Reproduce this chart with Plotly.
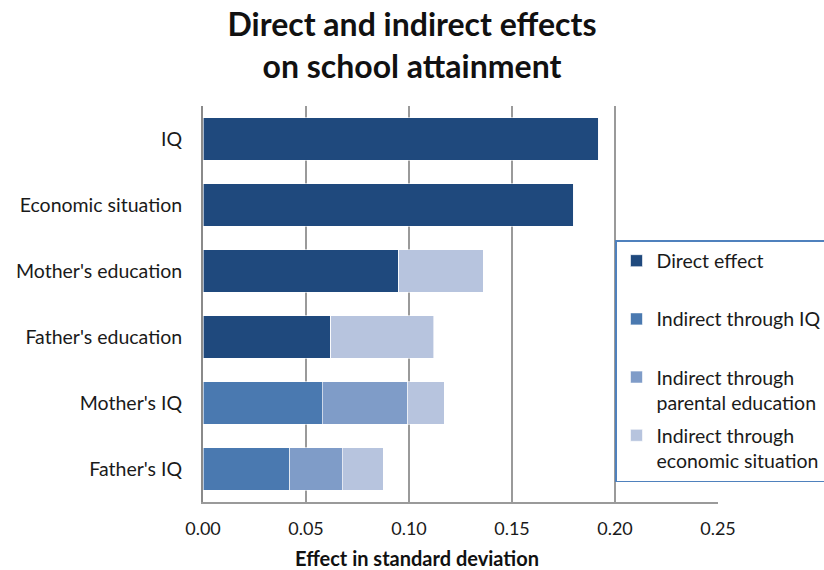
import plotly.graph_objects as go

categories = ["IQ", "Economic situation", "Mother's education",
              "Father's education", "Mother's IQ", "Father's IQ"]

direct_effect = [0.192, 0.180, 0.095, 0.062, 0, 0]
indirect_iq = [0, 0, 0, 0, 0.058, 0.042]
indirect_parental = [0, 0, 0, 0, 0.0415, 0.0255]
indirect_economic = [0, 0, 0.041, 0.050, 0.0175, 0.020]

series = [
    ("Direct effect<br>\u00a0", direct_effect, "#1F497D"),
    ("Indirect through IQ<br>\u00a0", indirect_iq, "#4A79B0"),
    ("Indirect through<br>parental education", indirect_parental, "#7F9CC8"),
    ("Indirect through<br>economic situation", indirect_economic, "#B7C4DE"),
]

font_family = "Lato, 'Open Sans', sans-serif"

fig = go.Figure()
for i, (name, vals, color) in enumerate(series):
    fig.add_trace(go.Bar(
        y=categories, x=vals, name=name, orientation="h",
        marker=dict(color=color, line=dict(color="rgba(255,255,255,0.6)", width=1)),
        legendgroup=str(i),
    ))

fig.update_layout(
    width=824, height=570,
    barmode="stack", bargap=0.36,
    paper_bgcolor="white", plot_bgcolor="white",
    margin=dict(l=203, r=106, t=106, b=68, autoexpand=False),
    font=dict(family=font_family, size=19.5, color="#1a1a1a"),
    title=dict(
        text="<b>Direct and indirect effects<br>on school attainment</b>",
        x=0.5, xanchor="center", y=(570 - 28) / 570, yanchor="top",
        yref="container", pad=dict(t=8),
        font=dict(size=32, color="#111111"),
    ),
    xaxis=dict(
        range=[0, 0.25], dtick=0.05, tickformat=".2f",
        showgrid=True, gridcolor="#9a9a9a", gridwidth=1.5,
        showline=True, linecolor="#9a9a9a", linewidth=1.5,
        zeroline=False, ticks="", ticklabelstandoff=10,
        tickfont=dict(size=18),
    ),
    yaxis=dict(
        autorange="reversed", showline=True, linecolor="#8a8a8a",
        linewidth=2, ticks="", showgrid=False, ticklabelstandoff=15,
    ),
    legend=dict(
        x=(615 - 203) / 515, xanchor="left",
        y=(502 - 240) / 396, yanchor="top",
        bgcolor="rgba(255,255,255,0.92)", bordercolor="#4F81BD", borderwidth=1.5,
        valign="top", tracegroupgap=4.5, traceorder="grouped",
        font=dict(size=19.5), itemwidth=30,
    ),
    annotations=[dict(
        text="<b>Effect in standard deviation</b>",
        xref="paper", yref="paper",
        x=(417 - 203) / 515, y=-(558 - 502) / 396,
        xanchor="center", yanchor="middle", showarrow=False,
        font=dict(size=20, color="#111111"),
    )],
)

fig.write_html("out.html")
